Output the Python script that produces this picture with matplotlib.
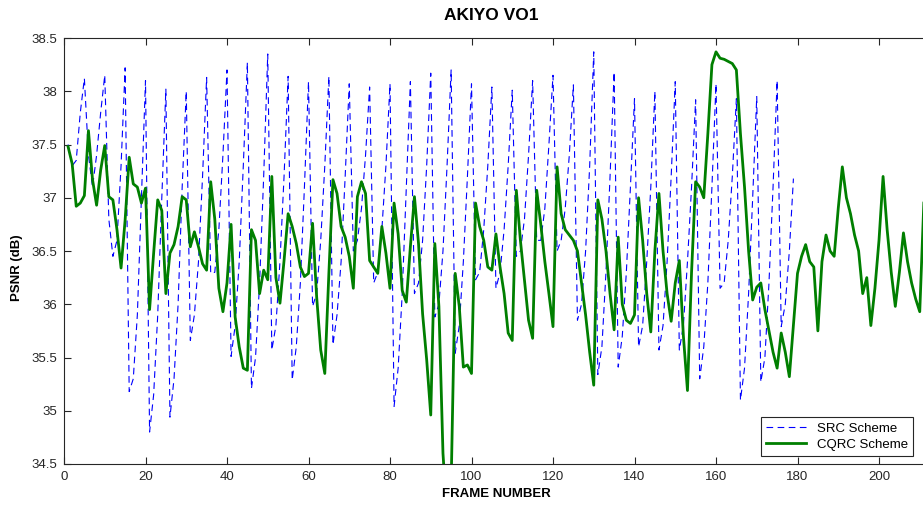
import numpy as np
import matplotlib
matplotlib.use('Agg')
import matplotlib.pyplot as plt
from matplotlib.ticker import FormatStrFormatter

plt.rcParams['font.family'] = ['Liberation Sans', 'DejaVu Sans']

# SRC scheme PSNR, frames 1..179
src_psnr = [
    37.5, 37.3, 37.35, 37.8, 38.12,
    37.4, 37.1, 37.4, 37.8, 38.15,
    36.8, 36.45, 36.6, 37.3, 38.22,
    35.18, 35.3, 35.9, 37.0, 38.1,
    34.8, 35.15, 35.9, 37.0, 38.02,
    34.94, 35.3, 36.0, 37.1, 38.0,
    35.66, 35.9, 36.4, 37.2, 38.13,
    36.29, 36.3, 36.7, 37.4, 38.2,
    35.51, 35.8, 36.4, 37.3, 38.27,
    35.21, 35.5, 36.2, 37.2, 38.35,
    35.57, 35.8, 36.4, 37.2, 38.14,
    35.29, 35.6, 36.2, 37.1, 38.09,
    35.98, 36.1, 36.6, 37.3, 38.14,
    35.62, 35.9, 36.4, 37.2, 38.07,
    36.5, 36.6, 36.9, 37.4, 38.04,
    36.2, 36.3, 36.7, 37.3, 38.07,
    35.04, 35.4, 36.1, 37.1, 38.09,
    36.1, 36.2, 36.6, 37.3, 38.17,
    35.88, 36.0, 36.5, 37.3, 38.2,
    35.54, 35.8, 36.4, 37.2, 38.07,
    36.23, 36.3, 36.7, 37.3, 38.04,
    36.15, 36.3, 36.7, 37.3, 38.01,
    36.45, 36.5, 36.8, 37.4, 38.1,
    36.6, 36.6, 36.9, 37.5, 38.15,
    36.5, 36.6, 36.9, 37.4, 38.06,
    35.85, 36.0, 36.5, 37.3, 38.37,
    35.34, 35.6, 36.3, 37.2, 38.18,
    35.41, 35.7, 36.3, 37.1, 37.93,
    35.6, 35.8, 36.4, 37.1, 38.0,
    35.57, 35.8, 36.4, 37.2, 38.09,
    35.57, 35.8, 36.4, 37.1, 37.92,
    35.3, 35.6, 36.2, 37.1, 38.07,
    36.15, 36.2, 36.6, 37.2, 37.93,
    35.1, 35.4, 36.1, 37.0, 37.95,
    35.27, 35.5, 36.2, 37.1, 38.1,
    35.79, 36.0, 36.5, 37.18,
]

# CQRC scheme PSNR, frames 1..211
cqrc_psnr = [
    37.48, 37.32, 36.92, 36.95, 37.02, 37.63, 37.17, 36.93, 37.26, 37.49,
    37.01, 36.98, 36.7, 36.34, 36.79, 37.38, 37.13, 37.1, 36.95, 37.09,
    35.95, 36.48, 36.98, 36.88, 36.1, 36.48, 36.56, 36.73, 37.01, 36.98,
    36.54, 36.68, 36.54, 36.38, 36.32, 37.15, 36.8, 36.15, 35.93, 36.2,
    36.75, 35.88, 35.6, 35.4, 35.38, 36.7, 36.6, 36.1, 36.32, 36.23,
    37.2, 36.25, 36.01, 36.41, 36.85, 36.73, 36.57, 36.35, 36.26, 36.29,
    36.76, 36.07, 35.57, 35.35, 36.29, 37.17, 37.04, 36.73, 36.63, 36.45,
    36.15, 37.01, 37.15, 37.04, 36.41, 36.35, 36.29, 36.73, 36.48, 36.15,
    36.95, 36.66, 36.13, 36.02, 36.54, 37.01, 36.57, 35.91, 35.48, 34.96,
    36.57, 35.98, 34.6, 34.0, 34.3, 36.29, 35.98, 35.41, 35.43, 35.35,
    36.95, 36.73, 36.6, 36.35, 36.32, 36.66, 36.35, 36.1, 35.73, 35.66,
    37.07, 36.6, 36.23, 35.85, 35.68, 37.07, 36.75, 36.4, 36.1, 35.79,
    37.29, 36.85, 36.7, 36.65, 36.6, 36.5, 36.2, 35.9, 35.55, 35.24,
    36.98, 36.8, 36.5, 36.1, 35.76, 36.63, 36.0, 35.85, 35.82, 35.9,
    37.0, 36.6, 36.1, 35.74, 36.5, 37.04, 36.5, 36.1, 35.84, 36.2,
    36.41, 35.7, 35.19, 36.3, 37.15, 37.1, 37.0, 37.6, 38.25, 38.37,
    38.31, 38.3, 38.28, 38.26, 38.2, 37.6, 37.1, 36.5, 36.04, 36.16,
    36.2, 35.95, 35.75, 35.55, 35.4, 35.73, 35.55, 35.32, 35.8, 36.29,
    36.45, 36.56, 36.4, 36.35, 35.75, 36.4, 36.65, 36.5, 36.45, 36.9,
    37.29, 37.0, 36.85, 36.65, 36.5, 36.1, 36.25, 35.8, 36.15, 36.6,
    37.2, 36.7, 36.3, 35.98, 36.3, 36.67, 36.4, 36.2, 36.05, 35.93,
    36.95,
]

src_frames = np.arange(1, len(src_psnr) + 1)
cqrc_frames = np.arange(1, len(cqrc_psnr) + 1)

x_ticks = np.arange(0, 220, 20)
y_ticks = np.arange(34.5, 38.51, 0.5)

W, H = 923, 505
fig = plt.figure(figsize=(W / 100, H / 100), dpi=100)
# axes runs a bit past the right edge of the picture (cropped original)
ax = fig.add_axes([64 / W, 41 / H, 212 * 4.075 / W, 426 / H])

ax.plot(src_frames, src_psnr, '--', color='#0000ff', lw=0.8, dashes=(6, 4),
        label='SRC Scheme')
ax.plot(cqrc_frames, cqrc_psnr, '-', color='#007f00', lw=2.0,
        label='CQRC Scheme')

ax.set_xlim(0, 212)
ax.set_ylim(34.5, 38.5)
ax.set_xticks(x_ticks)
ax.set_yticks(y_ticks)
ax.yaxis.set_major_formatter(FormatStrFormatter('%g'))
ax.tick_params(direction='in', top=True, right=False, length=5, width=0.8,
               labelsize=9.5, colors='#262626', pad=5)
for s in ax.spines.values():
    s.set_color('#262626')
    s.set_linewidth(0.8)

leg = ax.legend(loc='lower right', bbox_to_anchor=(913 / W, 49 / H),
                bbox_transform=fig.transFigure, fancybox=False,
                edgecolor='#262626', framealpha=1, borderaxespad=0,
                handlelength=3, fontsize=9.5, borderpad=0.4,
                labelspacing=0.3)
leg.get_frame().set_linewidth(0.8)

fig.text(491 / W, 1 - 16 / H, 'AKIYO VO1', ha='center', va='center',
         fontsize=12.5, fontweight='bold')
fig.text(496 / W, 1 - 494 / H, 'FRAME NUMBER', ha='center', va='center',
         fontsize=9.5, fontweight='bold')
fig.text(17 / W, 1 - 268 / H, 'PSNR (dB)', ha='center', va='center',
         rotation=90, fontsize=9.5, fontweight='bold')

fig.savefig('out.png', dpi=100)
